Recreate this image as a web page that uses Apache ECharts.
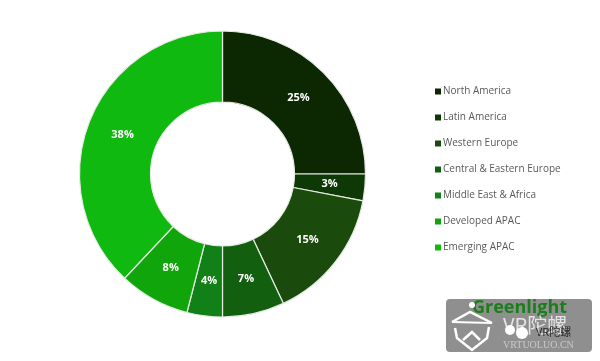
<!DOCTYPE html>
<html><head><meta charset="utf-8">
<style>html,body{margin:0;padding:0;background:#fff}#c{width:600px;height:361px}</style>
<script src="https://cdn.jsdelivr.net/npm/echarts@6/dist/echarts.min.js"></script>
</head><body><div id="c"></div>
<script>
const categories = ['North America','Latin America','Western Europe','Central & Eastern Europe','Middle East & Africa','Developed APAC','Emerging APAC'];
const shares = [25,3,15,7,4,8,38];
const colors = ['#0b2803','#0e3806','#1a4b0c','#135f10','#118016','#10a50a','#0fb90f'];
const font = '"Open Sans","Noto Sans",sans-serif';
const total = shares.reduce((a,b)=>a+b,0);
let running = 0;
const pieData = categories.map((n,i)=>{
  const mid = (running + shares[i]/2)/total*2*Math.PI; running += shares[i];
  return {name:n, value:shares[i], label:{offset:[-3*Math.sin(mid), 3*Math.cos(mid)]}};
});
const chart = echarts.init(document.getElementById('c'), null, {renderer:'canvas'});
chart.setOption({
  animation:false,
  color:colors,
  legend:{
    orient:'vertical', left:435, top:85.5, padding:0, itemWidth:6, itemHeight:6, itemGap:14,
    icon:'rect', data:categories, itemStyle:{borderWidth:0},
    textStyle:{fontFamily:font, fontSize:10, lineHeight:12, color:'#595959', padding:[0,0,0,-3]}
  },
  series:[{
    type:'pie', center:[222.5,174], radius:[72,143], startAngle:90, clockwise:true,
    avoidLabelOverlap:false,
    itemStyle:{borderColor:'#e6ebe4', borderWidth:1.2},
    label:{position:'inside', formatter:'{d}%', fontFamily:font, fontWeight:'bold', fontSize:11, color:'#fff'},
    labelLine:{show:false},
    emphasis:{disabled:true},
    data:pieData
  }],
  graphic:[
    {type:'rect', left:446, top:299, shape:{width:146,height:53,r:4}, style:{fill:'#8f8f8f'}},
    {type:'text', left:472, top:299, style:{text:'Greenlight', font:'bold 18px '+font, fill:'#1a7f1a'}},
    {type:'text', left:503, top:315, style:{text:'VR\u9640\u87ba', font:'20px "Noto Sans CJK SC"', fill:'#ffffff', opacity:0.75}},
    {type:'text', left:536, top:326, style:{text:'VR\u9640\u87ba', font:'11px "Noto Sans CJK SC"', fill:'#2a2a2a'}},
    {type:'text', left:503, top:340, style:{text:'VRTUOLUO.CN', font:'10px "Liberation Serif"', fill:'#c8c8c8'}},
    {type:'circle', shape:{cx:510,cy:330,r:5}, style:{fill:'#fff'}},
    {type:'circle', shape:{cx:522,cy:333,r:6}, style:{fill:'#fff'}},
    {type:'circle', shape:{cx:472,cy:305,r:3}, style:{fill:'#fff'}},
    {type:'polyline', shape:{points:[[452,322],[470,312],[492,323]]}, style:{fill:'none',stroke:'#fff',lineWidth:2.5}},
    {type:'polyline', shape:{points:[[452,322],[492,323]]}, style:{fill:'none',stroke:'#fff',lineWidth:2}},
    {type:'polyline', shape:{points:[[455,328],[457,338],[472,350],[487,338],[489,327]]}, style:{fill:'none',stroke:'#fff',lineWidth:2.5}},
    {type:'polyline', shape:{points:[[463,340],[472,332],[480,340]]}, style:{fill:'none',stroke:'#fff',lineWidth:2.5}}
  ]
});
</script></body></html>
